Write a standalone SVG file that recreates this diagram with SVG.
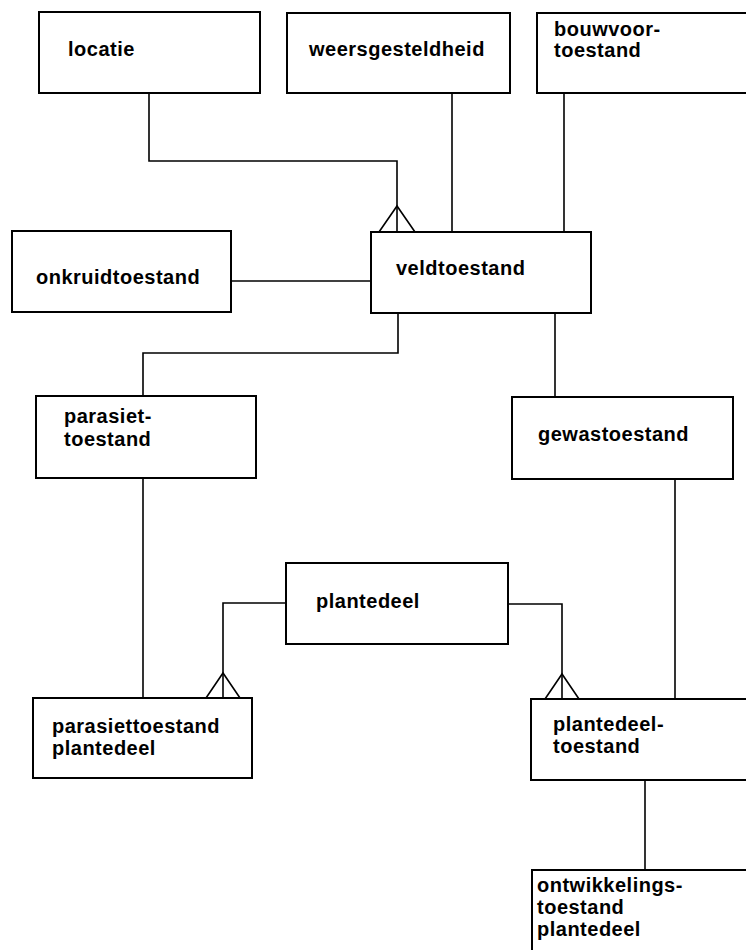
<svg xmlns="http://www.w3.org/2000/svg" width="746" height="950" viewBox="0 0 746 950">
  <style>
    .box { fill: #ffffff; stroke: #000000; stroke-width: 2; }
    .lbl { font-family: "Liberation Sans", Arial, Helvetica, sans-serif; font-weight: 700; font-size: 20px; letter-spacing: 0.5px; fill: #000000; }
    .con { fill: none; stroke: #000000; stroke-width: 1.6; }
  </style>
  <rect width="746" height="950" fill="#ffffff"/>

  <!-- connectors -->
  <g id="connectors" class="con">
    <!-- locatie to veldtoestand (many) -->
    <polyline points="149,93 149,161 397,161 397,232"/>
    <polyline points="379,232 397,206 415,232"/>
    <!-- weersgesteldheid to veldtoestand -->
    <line x1="452" y1="93" x2="452" y2="232"/>
    <!-- bouwvoortoestand to veldtoestand -->
    <line x1="564" y1="93" x2="564" y2="232"/>
    <!-- onkruidtoestand to veldtoestand -->
    <line x1="231" y1="281" x2="371" y2="281"/>
    <!-- veldtoestand to parasiettoestand -->
    <polyline points="398,313 398,353 143,353 143,396"/>
    <!-- veldtoestand to gewastoestand -->
    <line x1="555" y1="313" x2="555" y2="397"/>
    <!-- parasiettoestand to parasiettoestand plantedeel -->
    <line x1="143" y1="478" x2="143" y2="698"/>
    <!-- plantedeel to parasiettoestand plantedeel (many) -->
    <polyline points="286,603 223,603 223,698"/>
    <polyline points="206,698 223,673 240,698"/>
    <!-- plantedeel to plantedeeltoestand (many) -->
    <polyline points="508,604 562,604 562,699"/>
    <polyline points="545,699 562,674 579,699"/>
    <!-- gewastoestand to plantedeeltoestand -->
    <line x1="675" y1="479" x2="675" y2="699"/>
    <!-- plantedeeltoestand to ontwikkelingstoestand plantedeel -->
    <line x1="645" y1="780" x2="645" y2="870"/>
  </g>

  <g id="locatie">
    <rect class="box" x="39" y="12" width="221" height="81"/>
    <text class="lbl" x="68" y="56">locatie</text>
  </g>
  <g id="weersgesteldheid">
    <rect class="box" x="287" y="13" width="223" height="80"/>
    <text class="lbl" x="309" y="56">weersgesteldheid</text>
  </g>
  <g id="bouwvoortoestand">
    <rect class="box" x="537" y="13" width="220" height="80"/>
    <text class="lbl" x="554" y="36">bouwvoor-</text>
    <text class="lbl" x="554" y="57">toestand</text>
  </g>
  <g id="onkruidtoestand">
    <rect class="box" x="12" y="231" width="219" height="81"/>
    <text class="lbl" x="36" y="284">onkruidtoestand</text>
  </g>
  <g id="veldtoestand">
    <rect class="box" x="371" y="232" width="220" height="81"/>
    <text class="lbl" x="396" y="275">veldtoestand</text>
  </g>
  <g id="parasiettoestand">
    <rect class="box" x="36" y="396" width="220" height="82"/>
    <text class="lbl" x="64" y="423">parasiet-</text>
    <text class="lbl" x="64" y="446">toestand</text>
  </g>
  <g id="gewastoestand">
    <rect class="box" x="512" y="397" width="221" height="82"/>
    <text class="lbl" x="538" y="441">gewastoestand</text>
  </g>
  <g id="plantedeel">
    <rect class="box" x="286" y="563" width="222" height="81"/>
    <text class="lbl" x="316" y="608">plantedeel</text>
  </g>
  <g id="parasiettoestand-plantedeel">
    <rect class="box" x="33" y="698" width="219" height="80"/>
    <text class="lbl" x="52" y="733">parasiettoestand</text>
    <text class="lbl" x="52" y="755">plantedeel</text>
  </g>
  <g id="plantedeeltoestand">
    <rect class="box" x="531" y="699" width="225" height="81"/>
    <text class="lbl" x="553" y="731">plantedeel-</text>
    <text class="lbl" x="553" y="753">toestand</text>
  </g>
  <g id="ontwikkelingstoestand-plantedeel">
    <rect class="box" x="532" y="870" width="225" height="90"/>
    <text class="lbl" x="537" y="892">ontwikkelings-</text>
    <text class="lbl" x="537" y="914">toestand</text>
    <text class="lbl" x="537" y="936">plantedeel</text>
  </g>
</svg>
